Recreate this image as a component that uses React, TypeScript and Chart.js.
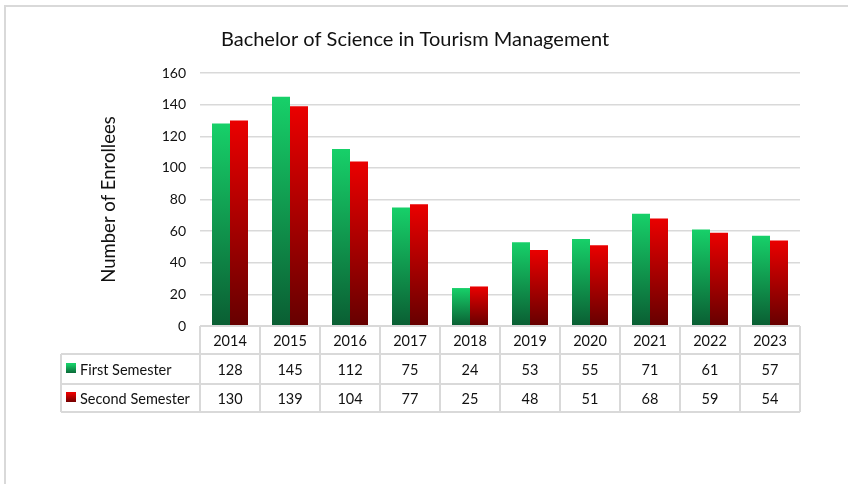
import React, { useEffect, useRef } from "react";
import { Chart, registerables } from "chart.js";

Chart.register(...registerables);

const TITLE = "Bachelor of Science in Tourism Management";
const Y_TITLE = "Number of Enrollees";
const years = ["2014", "2015", "2016", "2017", "2018", "2019", "2020", "2021", "2022", "2023"];
const seriesNames = ["First Semester", "Second Semester"];
const firstSemester = [128, 145, 112, 75, 24, 53, 55, 71, 61, 57];
const secondSemester = [130, 139, 104, 77, 25, 48, 51, 68, 59, 54];
const yTicksMax = 160;
const yStep = 20;

const FONT = "Lato, 'Open Sans', sans-serif";
const GREEN_TOP = "#17d069";
const GREEN_BOT = "#0a5e33";
const RED_TOP = "#ea0000";
const RED_BOT = "#660000";
const GRID = "#d9d9d9";

function gradFill(top: string, bot: string) {
  return (ctx: any) => {
    const chart = ctx.chart;
    const y = chart.scales && chart.scales.y;
    if (!chart.chartArea || !y || ctx.type !== "data") return top;
    const v = ctx.raw as number;
    const y0 = y.getPixelForValue(v);
    const y1 = y.getPixelForValue(0);
    const g = chart.ctx.createLinearGradient(0, y0, 0, y1 + 0.001);
    g.addColorStop(0, top);
    g.addColorStop(1, bot);
    return g;
  };
}

const framePlugin = {
  id: "frame",
  beforeDraw(chart: any) {
    const c = chart.ctx;
    c.save();
    c.fillStyle = "#ffffff";
    c.fillRect(0, 0, chart.width, chart.height);
    c.strokeStyle = GRID;
    c.lineWidth = 2;
    c.beginPath();
    c.moveTo(5, chart.height);
    c.lineTo(5, 6);
    c.lineTo(chart.width, 6);
    c.stroke();
    c.restore();
  },
};

const tablePlugin = {
  id: "dataTable",
  afterDraw(chart: any) {
    const c = chart.ctx;
    const x = chart.scales.x;
    const area = chart.chartArea;
    const n = years.length;
    const half = (x.getPixelForValue(1) - x.getPixelForValue(0)) / 2;
    const left = x.getPixelForValue(0) - half;
    const right = x.getPixelForValue(n - 1) + half;
    const tableLeft = 61;
    const r0 = area.bottom;
    const r1 = r0 + 28;
    const r2 = r1 + 30;
    const r3 = r2 + 28;
    c.save();
    c.strokeStyle = GRID;
    c.lineWidth = 2;
    c.beginPath();
    c.moveTo(left, r0);
    c.lineTo(right, r0);
    c.moveTo(tableLeft, r1);
    c.lineTo(right, r1);
    c.moveTo(tableLeft, r2);
    c.lineTo(right, r2);
    c.moveTo(tableLeft, r3);
    c.lineTo(right, r3);
    c.moveTo(tableLeft, r1);
    c.lineTo(tableLeft, r3);
    for (let i = 0; i <= n; i++) {
      const xx = left + i * half * 2;
      c.moveTo(xx, r0);
      c.lineTo(xx, r3);
    }
    c.stroke();

    c.fillStyle = "#111111";
    c.font = "14.5px " + FONT;
    c.textAlign = "center";
    c.textBaseline = "middle";
    const rows = [firstSemester, secondSemester];
    for (let i = 0; i < n; i++) {
      const cx = x.getPixelForValue(i);
      c.fillText(years[i], cx, (r0 + r1) / 2 + 1);
      c.fillText(String(rows[0][i]), cx, (r1 + r2) / 2 + 1);
      c.fillText(String(rows[1][i]), cx, (r2 + r3) / 2 + 1);
    }
    const cols = [
      [GREEN_TOP, GREEN_BOT],
      [RED_TOP, RED_BOT],
    ];
    const rowMid = [(r1 + r2) / 2, (r2 + r3) / 2];
    c.textAlign = "left";
    for (let k = 0; k < 2; k++) {
      const ym = rowMid[k];
      const g = c.createLinearGradient(0, ym - 5, 0, ym + 5);
      g.addColorStop(0, cols[k][0]);
      g.addColorStop(1, cols[k][1]);
      c.fillStyle = g;
      c.fillRect(66, ym - 6, 10, 10);
      c.fillStyle = "#111111";
      c.fillText(seriesNames[k], 80, ym + 1);
    }
    c.restore();
  },
};

export default function App() {
  const ref = useRef<HTMLCanvasElement | null>(null);
  useEffect(() => {
    if (!ref.current) return;
    const chart = new Chart(ref.current, {
      type: "bar",
      data: {
        labels: years,
        datasets: [
          {
            label: seriesNames[0],
            data: firstSemester,
            backgroundColor: gradFill(GREEN_TOP, GREEN_BOT),
            borderWidth: 0,
          },
          {
            label: seriesNames[1],
            data: secondSemester,
            backgroundColor: gradFill(RED_TOP, RED_BOT),
            borderWidth: 0,
          },
        ],
      },
      options: {
        responsive: false,
        animation: false,
        layout: { padding: { left: 30, right: 48, top: 0, bottom: 158 } },
        datasets: { bar: { categoryPercentage: 0.6, barPercentage: 1.0 } },
        plugins: {
          legend: { display: false },
          tooltip: { enabled: false },
          title: {
            display: true,
            text: TITLE,
            color: "#111111",
            font: { family: FONT, size: 20, weight: "normal" },
            padding: { top: 28, bottom: 21 },
          },
        },
        scales: {
          x: {
            display: false,
          },
          y: {
            min: 0,
            max: yTicksMax,
            ticks: {
              stepSize: yStep,
              color: "#111111",
              padding: 14,
              font: { family: FONT, size: 14 },
            },
            grid: { color: GRID, lineWidth: 1.5, drawTicks: false },
            border: { display: false },
            title: {
              display: true,
              text: Y_TITLE,
              color: "#111111",
              font: { family: FONT, size: 18.5 },
              padding: { top: 68, bottom: 0 },
            },
            afterFit(scale: any) {
              scale.width = 170;
            },
          },
        },
      },
      plugins: [framePlugin, tablePlugin],
    });
    return () => chart.destroy();
  }, []);
  return (
    <div style={{ position: "absolute", left: 0, top: 0, width: 848, height: 484 }}>
      <canvas ref={ref} width={848} height={484} style={{ display: "block" }} />
    </div>
  );
}
